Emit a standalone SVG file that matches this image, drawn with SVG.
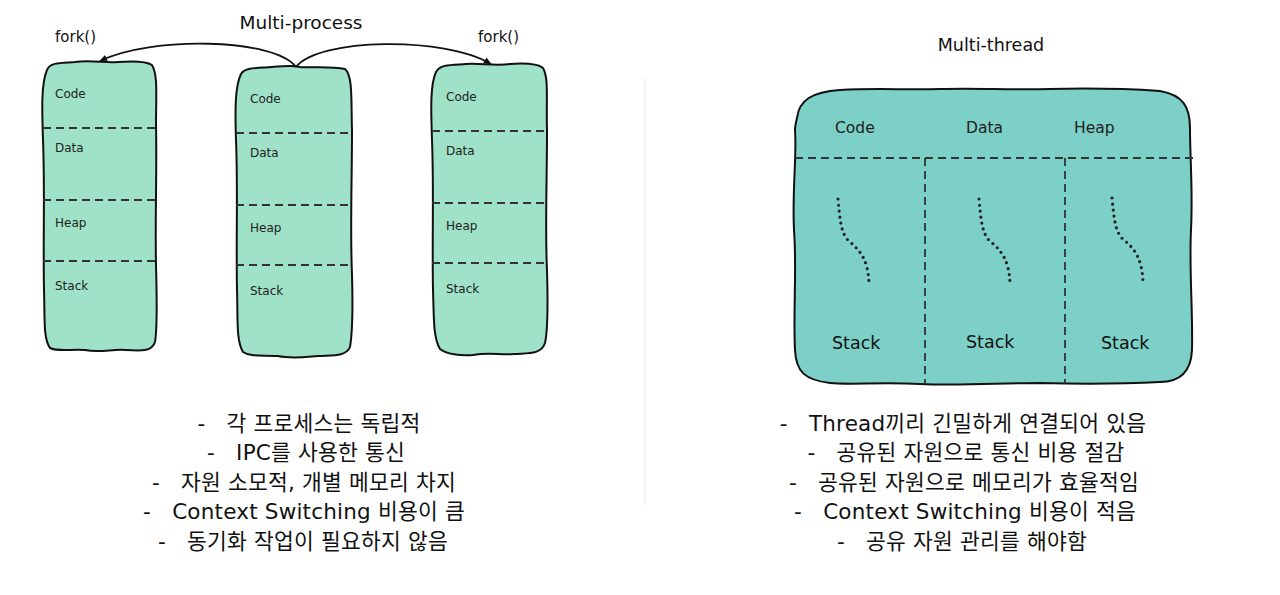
<svg xmlns="http://www.w3.org/2000/svg" width="1280" height="595" viewBox="0 0 1280 595">
<defs>
<style>
.col{fill:#a0e2c8;stroke:#111;stroke-width:2;stroke-linejoin:round}
.big{fill:#7dd0c8;stroke:#111;stroke-width:2;stroke-linejoin:round}
.dash{stroke:#333;stroke-width:1.8;stroke-dasharray:8 5;fill:none}
.vdash{stroke:#222;stroke-width:1.6;stroke-dasharray:8 5;fill:none}
.dot{stroke:#222;stroke-width:3.2;stroke-dasharray:0 6;stroke-linecap:round;fill:none}
.lbl{font-family:"DejaVu Sans","Noto Sans CJK KR",sans-serif;font-size:12px;fill:#222}
.lbl2{font-family:"DejaVu Sans","Noto Sans CJK KR",sans-serif;font-size:15.5px;fill:#222}
.stk{font-family:"DejaVu Sans","Noto Sans CJK KR",sans-serif;font-size:17.5px;fill:#111}
.title{font-family:"DejaVu Sans","Noto Sans CJK KR",sans-serif;font-size:18.5px;fill:#111}
.title2{font-family:"DejaVu Sans","Noto Sans CJK KR",sans-serif;font-size:17.5px;fill:#111}
.fork{font-family:"DejaVu Sans","Noto Sans CJK KR",sans-serif;font-size:15px;fill:#111}
.bul{font-family:"DejaVu Sans","Noto Sans CJK KR",sans-serif;font-size:21.5px;letter-spacing:0.2px;fill:#111;text-anchor:middle}
.conn{stroke:#111;stroke-width:1.8;fill:none}
</style>
<marker id="ah" viewBox="0 0 10 10" refX="9" refY="5" markerWidth="8" markerHeight="8" orient="auto-start-reverse" markerUnits="userSpaceOnUse">
<path d="M0,1 L10,5 L0,9 Z" fill="#111"/>
</marker>
</defs>
<rect width="1280" height="595" fill="#fff"/>
<line x1="645" y1="78" x2="645" y2="505" stroke="#ececec" stroke-width="1.2"/>

<text class="title" x="301" y="29" text-anchor="middle">Multi-process</text>
<text class="fork" x="55" y="42">fork()</text>
<text class="fork" x="478" y="42">fork()</text>

<g id="process1">
<path class="col" d="M47,70 C50,62 62,63 75,62 C90,60 105,63 118,62 C132,61 146,61 152,65 C158,75 156,95 156,125 C157,170 155,220 156,265 C157,300 157,330 155,342 C152,352 140,351 125,350 C112,349 100,353 85,350 C70,349 58,352 50,348 C43,338 45,318 44,290 C43,240 45,190 43,140 C42,110 41,84 47,70 Z"/>
<line class="dash" x1="43" y1="128" x2="156" y2="128"/>
<line class="dash" x1="43" y1="200" x2="156" y2="200"/>
<line class="dash" x1="43" y1="261" x2="156" y2="261"/>
<text class="lbl" x="55" y="98">Code</text>
<text class="lbl" x="55" y="152">Data</text>
<text class="lbl" x="55" y="227">Heap</text>
<text class="lbl" x="55" y="290">Stack</text>
</g>

<g id="process2">
<path class="col" d="M241,74 C245,67 258,68 272,67 C285,66 292,65 300,67 C315,68 330,66 345,69 C353,76 351,100 352,130 C352,180 350,230 352,275 C353,310 352,335 350,347 C346,357 332,355 318,356 C305,357 292,359 278,356 C262,355 250,357 243,352 C236,340 238,320 237,290 C236,240 238,190 236,140 C235,110 235,86 241,74 Z"/>
<line class="dash" x1="236" y1="133" x2="352" y2="133"/>
<line class="dash" x1="236" y1="205" x2="352" y2="205"/>
<line class="dash" x1="236" y1="265" x2="352" y2="265"/>
<text class="lbl" x="250" y="103">Code</text>
<text class="lbl" x="250" y="157">Data</text>
<text class="lbl" x="250" y="232">Heap</text>
<text class="lbl" x="250" y="295">Stack</text>
</g>

<g id="process3">
<path class="col" d="M436,72 C440,64 452,65 466,64 C480,63 495,66 510,64 C525,63 538,64 543,68 C549,78 546,100 547,130 C547,180 545,230 547,270 C548,305 548,330 545,343 C541,355 528,353 514,354 C500,355 488,352 473,355 C460,356 446,354 440,349 C433,337 434,318 433,290 C432,240 434,190 432,140 C431,110 430,85 436,72 Z"/>
<line class="dash" x1="432" y1="131" x2="547" y2="131"/>
<line class="dash" x1="432" y1="203" x2="547" y2="203"/>
<line class="dash" x1="432" y1="263" x2="547" y2="263"/>
<text class="lbl" x="446" y="101">Code</text>
<text class="lbl" x="446" y="155">Data</text>
<text class="lbl" x="446" y="230">Heap</text>
<text class="lbl" x="446" y="293">Stack</text>
</g>

<g id="connectors">
<path class="conn" d="M296,67 C275,38 150,36 100,61" marker-end="url(#ah)"/>
<path class="conn" d="M296,67 C318,38 445,36 491,64" marker-end="url(#ah)"/>
</g>

<text class="title2" x="991" y="51" text-anchor="middle">Multi-thread</text>

<g id="threads">
<path class="big" d="M797,118 C799,100 812,92 840,90 C875,88 905,90 940,89 C980,88 1010,90 1050,89 C1090,88 1130,89 1160,91 C1183,95 1190,107 1190,128 C1190,160 1193,190 1191,230 C1189,270 1193,310 1192,350 C1191,372 1180,382 1160,382 C1120,384 1080,384 1040,383 C1000,383 960,386 920,384 C880,382 850,385 830,383 C805,380 796,372 795,350 C793,310 797,270 794,230 C792,190 797,155 795,130 C795,126 796,122 797,118 Z"/>
<line class="dash" x1="795" y1="158" x2="1195" y2="158"/>
<line class="vdash" x1="925" y1="158" x2="925" y2="383"/>
<line class="vdash" x1="1065" y1="158" x2="1065" y2="384"/>
<text class="lbl2" x="835" y="133">Code</text>
<text class="lbl2" x="966" y="133">Data</text>
<text class="lbl2" x="1074" y="133">Heap</text>
<path class="dot" d="M838,199 C840,220 841,235 850,242 C862,252 868,262 869,283"/>
<path class="dot" d="M979,199 C981,220 982,235 991,242 C1003,252 1009,262 1010,283"/>
<path class="dot" d="M1112,198 C1114,218 1115,233 1124,240 C1136,250 1142,260 1143,282"/>
<text class="stk" x="832" y="349">Stack</text>
<text class="stk" x="966" y="348">Stack</text>
<text class="stk" x="1101" y="349">Stack</text>
</g>

<g id="left-notes">
<text class="bul" x="309" y="431" xml:space="preserve">-   각 프로세스는 독립적</text>
<text class="bul" x="306" y="460" xml:space="preserve">-   IPC를 사용한 통신</text>
<text class="bul" x="304" y="490" xml:space="preserve">-   자원 소모적, 개별 메모리 차지</text>
<text class="bul" x="304" y="519" xml:space="preserve">-   Context Switching 비용이 큼</text>
<text class="bul" x="303" y="549" xml:space="preserve">-   동기화 작업이 필요하지 않음</text>
</g>

<g id="right-notes">
<text class="bul" x="963" y="431" xml:space="preserve">-   Thread끼리 긴밀하게 연결되어 있음</text>
<text class="bul" x="966" y="460" xml:space="preserve">-   공유된 자원으로 통신 비용 절감</text>
<text class="bul" x="964" y="490" xml:space="preserve">-   공유된 자원으로 메모리가 효율적임</text>
<text class="bul" x="965" y="519" xml:space="preserve">-   Context Switching 비용이 적음</text>
<text class="bul" x="962" y="549" xml:space="preserve">-   공유 자원 관리를 해야함</text>
</g>
</svg>
